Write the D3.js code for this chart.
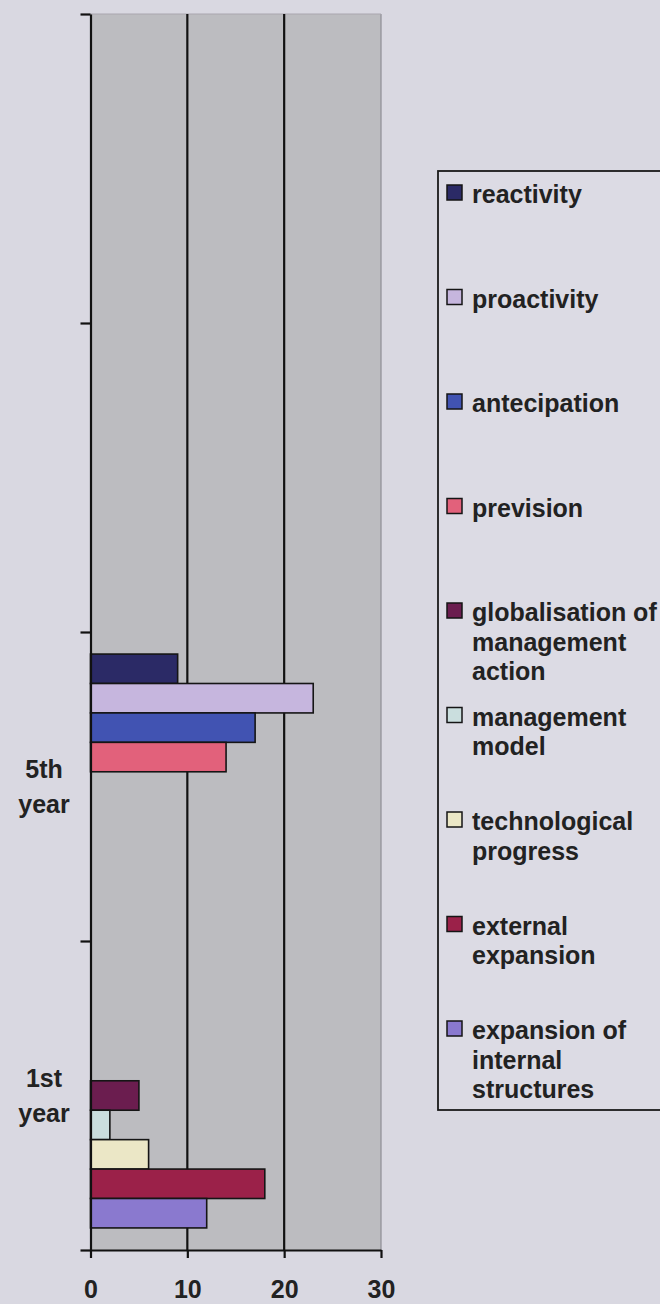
<!DOCTYPE html>
<html>
<head>
<meta charset="utf-8">
<script src="https://cdn.jsdelivr.net/npm/d3@7"></script>
<style>
  html, body { margin: 0; padding: 0; background: #d9d8e1; }
  svg { display: block; }
  text { font-family: "Liberation Sans", Arial, Helvetica, sans-serif; font-weight: bold; fill: #222; }
</style>
</head>
<body>
<svg id="chart" width="660" height="1304"></svg>
<script>
// ---- data ----
const categories = ["", "", "5th year", "1st year"];
const seriesNames = [
  "reactivity",
  "proactivity",
  "antecipation",
  "prevision",
  "globalisation of management action",
  "management model",
  "technological progress",
  "external expansion",
  "expansion of internal structures"
];
// values per series, one per category (top to bottom)
const reactivity      = [0, 0, 9, 0];
const proactivity     = [0, 0, 23, 0];
const antecipation    = [0, 0, 17, 0];
const prevision       = [0, 0, 14, 0];
const globalisation   = [0, 0, 0, 5];
const managementModel = [0, 0, 0, 2];
const technological   = [0, 0, 0, 6];
const externalExp     = [0, 0, 0, 18];
const internalExp     = [0, 0, 0, 12];
const seriesValues = [reactivity, proactivity, antecipation, prevision, globalisation,
                      managementModel, technological, externalExp, internalExp];
const seriesColors = ["#2b2a66", "#c6b6de", "#4153b2", "#e2617b", "#6b1d4f",
                      "#cadede", "#ebe7c6", "#9b2149", "#8a79cf"];
const xTicks = [0, 10, 20, 30];

// ---- layout ----
const svg = d3.select("#chart");
const plot = { left: 90.5, right: 381, top: 14, bottom: 1250 };

const x = d3.scaleLinear().domain([0, 30]).range([plot.left, plot.right]);
const y = d3.scaleBand().domain(d3.range(categories.length)).range([plot.top, plot.bottom]).paddingInner(0).paddingOuter(0);
const yInner = d3.scaleBand().domain(seriesNames).range([0, y.bandwidth()]).paddingInner(0).paddingOuter(0.75);
const yEdges = d3.scaleLinear().domain([0, categories.length]).range([plot.top, plot.bottom]);

// plot background
svg.append("rect")
  .attr("x", plot.left).attr("y", plot.top)
  .attr("width", plot.right - plot.left).attr("height", plot.bottom - plot.top)
  .attr("fill", "#bcbcc0");
svg.append("line")
  .attr("x1", plot.right).attr("x2", plot.right)
  .attr("y1", plot.top).attr("y2", plot.bottom)
  .attr("stroke", "#8e8e94").attr("stroke-width", 1.2);
svg.append("line")
  .attr("x1", plot.left).attr("x2", plot.right)
  .attr("y1", plot.top).attr("y2", plot.top)
  .attr("stroke", "#a9a6ae").attr("stroke-width", 1);

// gridlines
svg.append("g").selectAll("line")
  .data(xTicks.filter(t => t > 0 && t < 30))
  .join("line")
  .attr("x1", d => x(d)).attr("x2", d => x(d))
  .attr("y1", plot.top).attr("y2", plot.bottom)
  .attr("stroke", "#111").attr("stroke-width", 2.2);

// bars
const barData = [];
seriesNames.forEach((s, si) => {
  seriesValues[si].forEach((v, ci) => {
    if (v > 0) barData.push({ series: s, si, ci, v });
  });
});
svg.append("g").selectAll("rect")
  .data(barData)
  .join("rect")
  .attr("x", x(0))
  .attr("y", d => y(d.ci) + yInner(d.series))
  .attr("width", d => x(d.v) - x(0))
  .attr("height", yInner.bandwidth())
  .attr("fill", d => seriesColors[d.si])
  .attr("stroke", "#151515")
  .attr("stroke-width", 1.6);

// x axis
const xAxis = svg.append("g")
  .attr("transform", `translate(0,${plot.bottom})`)
  .call(d3.axisBottom(x).tickValues(xTicks).tickSize(8).tickPadding(22).tickSizeOuter(0));
xAxis.select(".domain").attr("stroke", "#111").attr("stroke-width", 2.2);
xAxis.selectAll(".tick line").attr("stroke", "#111").attr("stroke-width", 2.2);
xAxis.selectAll(".tick text")
  .style("font-family", '"Liberation Sans", Arial, sans-serif')
  .style("font-weight", "bold").style("font-size", "25px").attr("fill", "#222");

// y axis (ticks at category boundaries)
const yAxis = svg.append("g")
  .attr("transform", `translate(${plot.left},0)`)
  .call(d3.axisLeft(yEdges).tickValues(d3.range(categories.length + 1)).tickSize(10).tickFormat("").tickSizeOuter(0));
yAxis.select(".domain").attr("stroke", "#111").attr("stroke-width", 2.2);
yAxis.selectAll(".tick line").attr("stroke", "#111").attr("stroke-width", 2.2);

// category labels (wrapped, centered in band)
const catG = svg.append("g");
categories.forEach((c, ci) => {
  if (!c) return;
  const words = c.split(" ");
  const lh = 35;
  const cy = y(ci) + y.bandwidth() / 2;
  const t = catG.append("text")
    .attr("text-anchor", "middle")
    .style("font-size", "25px");
  words.forEach((w, i) => {
    t.append("tspan")
      .attr("x", 44)
      .attr("y", cy - ((words.length - 1) * lh) / 2 + i * lh + 9)
      .text(w);
  });
});

// legend
const legend = { left: 438, top: 171, right: 664, bottom: 1110, firstBaseline: 203, lastBaseline: 1039, lineH: 29.5, maxW: 190 };
svg.append("rect")
  .attr("x", legend.left).attr("y", legend.top)
  .attr("width", legend.right - legend.left).attr("height", legend.bottom - legend.top)
  .attr("fill", "#dcdbe4").attr("stroke", "#1a1a1a").attr("stroke-width", 1.8);
const step = (legend.lastBaseline - legend.firstBaseline) / (seriesNames.length - 1);
const lg = svg.append("g");
seriesNames.forEach((s, si) => {
  const base = legend.firstBaseline + si * step;
  lg.append("rect")
    .attr("x", 447).attr("y", base - 18)
    .attr("width", 15).attr("height", 15)
    .attr("fill", seriesColors[si]).attr("stroke", "#151515").attr("stroke-width", 1.5);
  const t = lg.append("text").style("font-size", "25px");
  // wrap
  const words = s.split(" ");
  let line = [];
  let lineNo = 0;
  let tspan = t.append("tspan").attr("x", 472).attr("y", base);
  words.forEach(w => {
    line.push(w);
    tspan.text(line.join(" "));
    if (tspan.node().getComputedTextLength() > legend.maxW && line.length > 1) {
      line.pop();
      tspan.text(line.join(" "));
      line = [w];
      lineNo++;
      tspan = t.append("tspan").attr("x", 472).attr("y", base + lineNo * legend.lineH).text(w);
    }
  });
});
</script>
</body>
</html>
